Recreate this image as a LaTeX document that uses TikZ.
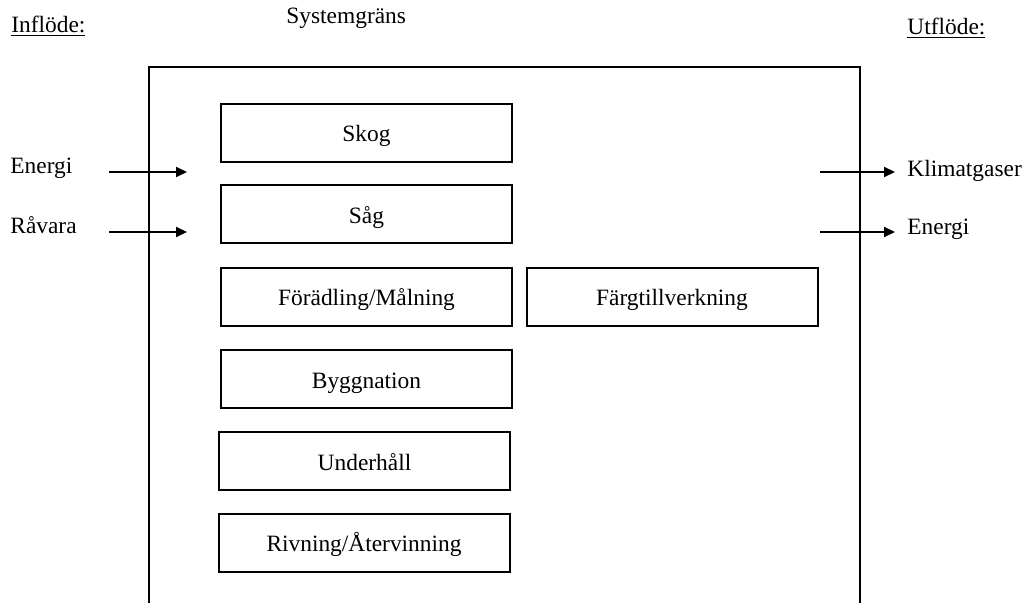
\documentclass[tikz,border=0pt]{standalone}
\usepackage{fontspec}
\setmainfont{Liberation Serif}
\usetikzlibrary{arrows.meta}
\tikzset{stage/.style = {draw, line width=1pt, minimum width=145.5pt, minimum height=29pt, inner sep=0pt,
    text height=10pt, text depth=1pt},
  flow/.style = {line width=1pt, -{Triangle[length=5.5pt,width=5pt]}},
  lbl/.style = {anchor=west, inner sep=0pt}}

\begin{document}
\begin{tikzpicture}[x=0.5pt, y=-0.5pt, font=\fontsize{11.7}{14}\selectfont]
  \useasboundingbox (0,0) rectangle (1026,603);
  \draw[line width=1pt] (149,610) -- (149,67) -- (860,67) -- (860,610);
  \node[lbl] (inflode) at (11,26) {\underline{Inflöde:}};
  \node[lbl] (grans) at (286,18) {Systemgräns};
  \node[lbl] (utflode) at (907,28) {\underline{Utflöde:}};

  \node[stage] (skog) at (366.5,133) {Skog};
  \node[stage] (sag) at (366.5,214.5) {Såg};
  \node[stage] (foradling) at (366.5,297) {Förädling/Målning};
  \node[stage] (farg) at (672,297) {Färgtillverkning};
  \node[stage] (bygg) at (366.5,379) {Byggnation};
  \node[stage] (underhall) at (364.5,461) {Underhåll};
  \node[stage] (rivning) at (364,542.5) {Rivning/Återvinning};

  \node[lbl] (energiin) at (10,168) {Energi};
  \node[lbl] (ravara) at (10,225) {Råvara};
  \node[lbl] (klimat) at (907,171) {Klimatgaser};
  \node[lbl] (energiut) at (907,229) {Energi};

  \coordinate (e1) at (109,172);  \coordinate (e2) at (187,172);
  \coordinate (r1) at (109,232);  \coordinate (r2) at (187,232);
  \coordinate (k1) at (820,172);  \coordinate (k2) at (895,172);
  \coordinate (u1) at (820,232);  \coordinate (u2) at (895,232);
  \draw[flow] (e1) -- (e2);
  \draw[flow] (r1) -- (r2);
  \draw[flow] (k1) -- (k2);
  \draw[flow] (u1) -- (u2);
\end{tikzpicture}
\end{document}
